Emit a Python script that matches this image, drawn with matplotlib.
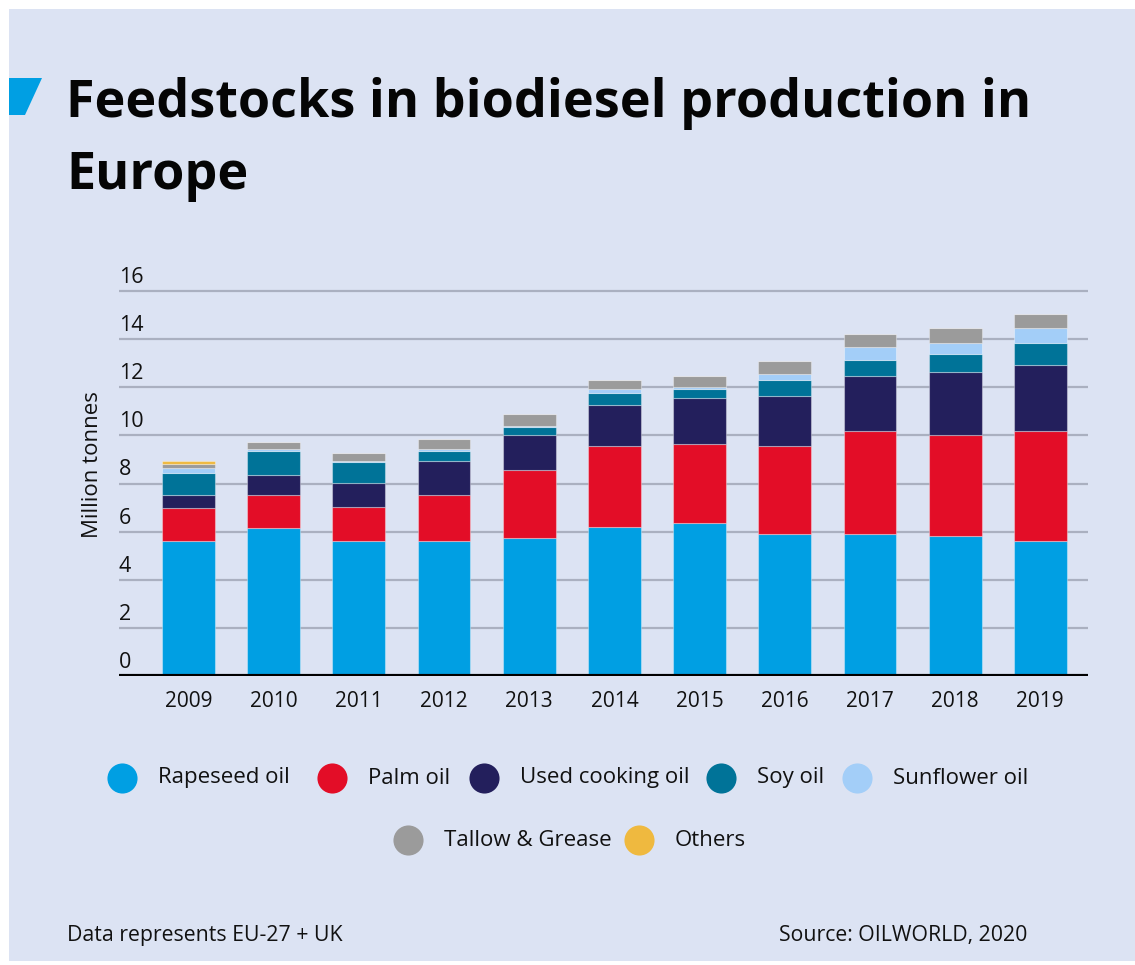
import matplotlib
matplotlib.use('Agg')
import matplotlib.pyplot as plt
import numpy as np
from matplotlib.patches import Rectangle, Polygon

# ── Data (million tonnes) ─────────────────────────────────────────────────────
years     = ['2009', '2010', '2011', '2012', '2013', '2014', '2015', '2016', '2017', '2018', '2019']
rapeseed  = [5.60, 6.14, 5.60, 5.60, 5.75, 6.21, 6.36, 5.90, 5.90, 5.83, 5.60]
palm      = [1.37, 1.37, 1.44, 1.91, 2.83, 3.36, 3.28, 3.67, 4.27, 4.20, 4.57]
uco       = [0.54, 0.84, 1.00, 1.44, 1.45, 1.68, 1.91, 2.06, 2.30, 2.59, 2.74]
soy       = [0.91, 1.00, 0.84, 0.40, 0.31, 0.53, 0.38, 0.69, 0.68, 0.76, 0.92]
sunflower = [0.21, 0.07, 0.07, 0.07, 0.07, 0.14, 0.07, 0.22, 0.54, 0.45, 0.62]
tallow    = [0.17, 0.29, 0.32, 0.44, 0.46, 0.40, 0.47, 0.54, 0.52, 0.62, 0.61]
others    = [0.15, 0.00, 0.00, 0.00, 0.00, 0.00, 0.00, 0.00, 0.00, 0.00, 0.00]

series_names = ['Rapeseed oil', 'Palm oil', 'Used cooking oil', 'Soy oil',
                'Sunflower oil', 'Tallow & Grease', 'Others']
series_vals  = [rapeseed, palm, uco, soy, sunflower, tallow, others]
colors = ['#009fe3', '#e30d27', '#231f5c', '#007398', '#a3cef8', '#9b9b9b', '#efb93f']
yticks = [0, 2, 4, 6, 8, 10, 12, 14, 16]

BG = '#dce3f3'
INK = '#111111'
W, H = 1135, 965
plt.rcParams['font.family'] = ['Open Sans', 'DejaVu Sans']

fig = plt.figure(figsize=(W / 100, H / 100), dpi=100, facecolor='white')

# ── Overlay in pixel coords: background, title, legend, footer ────────────────
ov = fig.add_axes([0, 0, 1, 1], zorder=0)
ov.set_xlim(0, W)
ov.set_ylim(H, 0)
ov.axis('off')
ov.add_patch(Rectangle((9, 9), W - 9, H - 13, color=BG, lw=0))
ov.add_patch(Polygon([(9, 78), (42, 78), (25, 115), (9, 115)], closed=True,
                     color='#009fe3', lw=0))
ov.text(66, 117, 'Feedstocks in biodiesel production in', fontsize=37.5,
        fontweight='bold', color='#050505', va='baseline')
ov.text(66, 189, 'Europe', fontsize=37.5, fontweight='bold', color='#050505',
        va='baseline')

# legend (two centred rows)
leg_pos = [(122, 778), (332, 778), (484, 778), (721, 778), (857, 778),
           (408, 840), (639, 840)]
for (cx, cy), name, c in zip(leg_pos, series_names, colors):
    ov.scatter([cx], [cy], s=470, color=c, lw=0)
    ov.text(cx + 36, cy, name, fontsize=16, color=INK, va='center')

ov.text(67, 935, 'Data represents EU-27 + UK', fontsize=15.3, color=INK,
        va='center')
ov.text(1027, 935, 'Source: OILWORLD, 2020', fontsize=15.3, color=INK,
        va='center', ha='right')

# ── Chart ─────────────────────────────────────────────────────────────────────
x0, x1 = 118.7, 1088
ybot, ytop = 676, 283.8
ax = fig.add_axes([x0 / W, (H - ybot) / H, (x1 - x0) / W, (ybot - ytop) / H], zorder=1)
ax.patch.set_alpha(0)

x = np.arange(len(years))
bottom = np.zeros(len(years))
for vals, c in zip(series_vals, colors):
    vals = np.array(vals)
    ax.bar(x, vals, width=0.62, bottom=bottom, color=c,
           edgecolor=(1, 1, 1, 0.35), linewidth=0.8, zorder=3)
    bottom += vals

ax.set_xlim(-0.82, 10.56)
ax.set_ylim(0, 16.3)
ax.set_yticks(yticks)
ax.set_yticklabels([])
ax.tick_params(axis='y', length=0)
ax.yaxis.grid(True, color='#aab0c0', lw=1.6, zorder=1)
ax.axhline(0, color='black', lw=3, zorder=4)
for t in yticks:
    ax.text(0.0, t + 0.13, str(t), transform=ax.get_yaxis_transform(),
            fontsize=15.5, color=INK, ha='left', va='bottom')

ax.set_xticks(x)
ax.set_xticklabels(years, fontsize=15, color=INK)
ax.tick_params(axis='x', length=0, pad=11)
for s in ax.spines.values():
    s.set_visible(False)

ov.text(92, 465, 'Million tonnes', fontsize=16, color=INK, rotation=90,
        ha='center', va='center')

fig.savefig('out.png', dpi=100, facecolor='white')
